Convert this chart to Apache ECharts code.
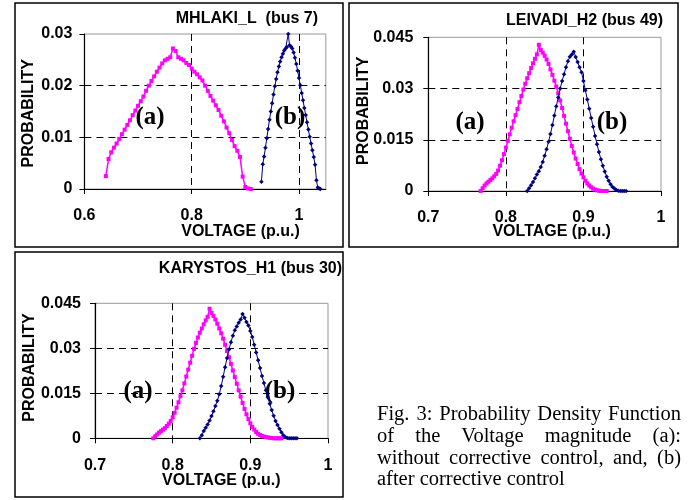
<!DOCTYPE html>
<html>
<head>
<meta charset="utf-8">
<script src="https://cdn.jsdelivr.net/npm/echarts@6/dist/echarts.min.js"></script>
<style>
  body { margin: 0; background: #fff; }
  #chart { width: 688px; height: 500px; }
  #caption { position: absolute; left: 377px; top: 403px; width: 304px;
    font-family: 'Liberation Serif', 'Times New Roman', serif; font-size: 20.5px;
    line-height: 21.8px; color: #000; }
  #caption .j { text-align: justify; text-align-last: justify; }
</style>
</head>
<body>
<div id="chart"></div>
<div id="caption">
  <div class="j">Fig. 3: Probability Density Function</div>
  <div class="j">of the Voltage magnitude (a):</div>
  <div class="j">without corrective control, and, (b)</div>
  <div>after corrective control</div>
</div>
<script>
// MHLAKI_L (bus 7)
var mhlakiVoltA = [0.640,0.645,0.650,0.655,0.660,0.665,0.670,0.675,0.680,0.685,0.690,0.695,0.700,0.705,0.710,0.715,0.720,0.725,0.730,0.735,0.740,0.745,0.750,0.755,0.760,0.765,0.770,0.775,0.780,0.785,0.790,0.795,0.800,0.805,0.810,0.815,0.820,0.825,0.830,0.835,0.840,0.845,0.850,0.855,0.860,0.865,0.870,0.875,0.880,0.885,0.890,0.895,0.900,0.905,0.910];
var mhlakiProbA = [0.0025,0.0058,0.0071,0.0080,0.0088,0.0097,0.0106,0.0115,0.0124,0.0133,0.0143,0.0152,0.0161,0.0170,0.0179,0.0190,0.0200,0.0209,0.0218,0.0227,0.0235,0.0243,0.0249,0.0252,0.0255,0.0272,0.0267,0.0255,0.0252,0.0249,0.0244,0.0240,0.0233,0.0227,0.0222,0.0216,0.0210,0.0200,0.0190,0.0180,0.0171,0.0162,0.0153,0.0142,0.0131,0.0119,0.0108,0.0095,0.0083,0.0074,0.0062,0.0024,0.0004,0.0001,0.0];
var mhlakiVoltB = [0.930,0.9325,0.935,0.9375,0.940,0.9425,0.945,0.9475,0.950,0.9525,0.955,0.9575,0.960,0.9625,0.965,0.9675,0.970,0.9725,0.975,0.9775,0.980,0.9825,0.985,0.9875,0.990,0.9925,0.995,0.9975,1.000,1.0025,1.005,1.0075,1.010,1.0125,1.015,1.0175,1.020,1.0225,1.025,1.0275,1.030,1.0325,1.035,1.0375,1.040];
var mhlakiProbB = [0.0014,0.0048,0.0063,0.0080,0.0098,0.0116,0.0134,0.0150,0.0166,0.0183,0.0199,0.0213,0.0226,0.0237,0.0247,0.0255,0.0262,0.0268,0.0272,0.0275,0.0300,0.0278,0.0276,0.0272,0.0264,0.0254,0.0242,0.0229,0.0215,0.0201,0.0186,0.0172,0.0157,0.0143,0.0129,0.0115,0.0101,0.0088,0.0075,0.0062,0.0047,0.0017,0.0003,0.0001,0.0];

// LEIVADI_H2 (bus 49)
var leivadiVoltA = [0.7675,0.7700,0.7725,0.7750,0.7775,0.7800,0.7825,0.7850,0.7875,0.7900,0.7925,0.7950,0.7975,0.8000,0.8025,0.8050,0.8075,0.8100,0.8125,0.8150,0.8175,0.8200,0.8225,0.8250,0.8275,0.8300,0.8325,0.8350,0.8375,0.8400,0.8425,0.8450,0.8475,0.8500,0.8525,0.8550,0.8575,0.8600,0.8625,0.8650,0.8675,0.8700,0.8725,0.8750,0.8775,0.8800,0.8825,0.8850,0.8875,0.8900,0.8925,0.8950,0.8975,0.9000,0.9025,0.9050,0.9075,0.9100,0.9125,0.9150,0.9175,0.9200,0.9225,0.9250,0.9275,0.9300];
var leivadiProbA = [0.0000,0.0008,0.0016,0.0022,0.0027,0.0032,0.0037,0.0043,0.0050,0.0060,0.0074,0.0090,0.0108,0.0127,0.0147,0.0166,0.0185,0.0204,0.0222,0.0240,0.0260,0.0278,0.0297,0.0314,0.0330,0.0345,0.0360,0.0374,0.0387,0.0400,0.0428,0.0413,0.0405,0.0396,0.0385,0.0372,0.0356,0.0340,0.0323,0.0306,0.0286,0.0265,0.0243,0.0220,0.0197,0.0175,0.0153,0.0132,0.0113,0.0095,0.0079,0.0064,0.0051,0.0040,0.0030,0.0022,0.0016,0.0011,0.0007,0.0004,0.0002,0.0001,0.0000,0.0000,0.0000,0.0000];
var leivadiVoltB = [0.8275,0.8300,0.8325,0.8350,0.8375,0.8400,0.8425,0.8450,0.8475,0.8500,0.8525,0.8550,0.8575,0.8600,0.8625,0.8650,0.8675,0.8700,0.8725,0.8750,0.8775,0.8800,0.8825,0.8850,0.8875,0.8900,0.8925,0.8950,0.8975,0.9000,0.9025,0.9050,0.9075,0.9100,0.9125,0.9150,0.9175,0.9200,0.9225,0.9250,0.9275,0.9300,0.9325,0.9350,0.9375,0.9400,0.9425,0.9450,0.9475,0.9500,0.9525,0.9550];
var leivadiProbB = [0.0000,0.0008,0.0017,0.0026,0.0037,0.0048,0.0058,0.0070,0.0085,0.0103,0.0122,0.0144,0.0167,0.0193,0.0221,0.0248,0.0274,0.0300,0.0322,0.0342,0.0362,0.0380,0.0393,0.0400,0.0408,0.0392,0.0378,0.0362,0.0348,0.0322,0.0295,0.0268,0.0241,0.0214,0.0188,0.0161,0.0137,0.0114,0.0093,0.0074,0.0057,0.0042,0.0030,0.0020,0.0012,0.0007,0.0003,0.0001,0.0000,0.0000,0.0000,0.0000];

// KARYSTOS_H1 (bus 30)
var karystosVoltA = [0.7750,0.7775,0.7800,0.7825,0.7850,0.7875,0.7900,0.7925,0.7950,0.7975,0.8000,0.8025,0.8050,0.8075,0.8100,0.8125,0.8150,0.8175,0.8200,0.8225,0.8250,0.8275,0.8300,0.8325,0.8350,0.8375,0.8400,0.8425,0.8450,0.8475,0.8500,0.8525,0.8550,0.8575,0.8600,0.8625,0.8650,0.8675,0.8700,0.8725,0.8750,0.8775,0.8800,0.8825,0.8850,0.8875,0.8900,0.8925,0.8950,0.8975,0.9000,0.9025,0.9050,0.9075,0.9100,0.9125,0.9150,0.9175,0.9200,0.9225,0.9250,0.9275,0.9300,0.9325,0.9350,0.9375,0.9400];
var karystosProbA = [0.0000,0.0007,0.0013,0.0019,0.0024,0.0029,0.0034,0.0041,0.0049,0.0058,0.0070,0.0085,0.0102,0.0120,0.0140,0.0160,0.0183,0.0206,0.0229,0.0252,0.0275,0.0298,0.0318,0.0336,0.0352,0.0366,0.0380,0.0393,0.0405,0.0432,0.0418,0.0408,0.0396,0.0382,0.0366,0.0350,0.0332,0.0312,0.0291,0.0270,0.0248,0.0226,0.0204,0.0182,0.0160,0.0139,0.0118,0.0098,0.0080,0.0064,0.0050,0.0038,0.0029,0.0021,0.0015,0.0011,0.0008,0.0006,0.0004,0.0003,0.0002,0.0001,0.0000,0.0000,0.0000,0.0000,0.0000];
var karystosVoltB = [0.8350,0.8375,0.8400,0.8425,0.8450,0.8475,0.8500,0.8525,0.8550,0.8575,0.8600,0.8625,0.8650,0.8675,0.8700,0.8725,0.8750,0.8775,0.8800,0.8825,0.8850,0.8875,0.8900,0.8925,0.8950,0.8975,0.9000,0.9025,0.9050,0.9075,0.9100,0.9125,0.9150,0.9175,0.9200,0.9225,0.9250,0.9275,0.9300,0.9325,0.9350,0.9375,0.9400,0.9425,0.9450,0.9475,0.9500,0.9525,0.9550,0.9575,0.9600];
var karystosProbB = [0.0000,0.0010,0.0024,0.0035,0.0046,0.0059,0.0074,0.0090,0.0108,0.0125,0.0147,0.0174,0.0205,0.0237,0.0268,0.0296,0.0320,0.0342,0.0360,0.0373,0.0385,0.0396,0.0414,0.0402,0.0388,0.0376,0.0358,0.0338,0.0312,0.0286,0.0260,0.0234,0.0208,0.0184,0.0160,0.0137,0.0115,0.0094,0.0075,0.0058,0.0044,0.0032,0.0020,0.0010,0.0004,0.0001,0.0000,0.0000,0.0000,0.0000,0.0000];

var titles = ['MHLAKI_L  (bus 7)', 'LEIVADI_H2 (bus 49)', 'KARYSTOS_H1 (bus 30)'];

var font = 'Liberation Sans, Arial, sans-serif';
var dash = { color: '#000', width: 1, type: [7, 5] };

function pairs(xs, ys) {
  return xs.map(function (x, i) { return [x, ys[i]]; });
}

function xAxisFor(idx, min, max, interval, hideMax) {
  return {
    type: 'value', gridIndex: idx, min: min, max: max, interval: interval,
    axisLine: { lineStyle: { color: '#000', width: 1.2 } },
    axisTick: { show: true, length: 5, lineStyle: { color: '#000' } },
    axisLabel: { color: '#000', fontFamily: font, fontWeight: 'bold', fontSize: 16, margin: 19, showMaxLabel: !hideMax },
    splitLine: { show: true, showMinLine: false, showMaxLine: false, lineStyle: dash }
  };
}

function yAxisFor(idx, max, interval, margin) {
  return {
    type: 'value', gridIndex: idx, min: 0, max: max, interval: interval,
    axisLine: { show: true, lineStyle: { color: '#000', width: 1.2 } },
    axisTick: { show: true, length: 5, lineStyle: { color: '#000' } },
    axisLabel: { color: '#000', fontFamily: font, fontWeight: 'bold', fontSize: 16, margin: margin },
    splitLine: { show: true, showMinLine: false, showMaxLine: false, lineStyle: dash }
  };
}

function curveA(idx, xs, ys) {
  return {
    type: 'line', xAxisIndex: idx, yAxisIndex: idx, data: pairs(xs, ys),
    symbol: 'rect', symbolSize: 4, showAllSymbol: true,
    lineStyle: { color: '#ff00ff', width: 1.5 }, itemStyle: { color: '#ff00ff' }, z: 3
  };
}

function curveB(idx, xs, ys) {
  return {
    type: 'line', xAxisIndex: idx, yAxisIndex: idx, data: pairs(xs, ys),
    symbol: 'diamond', symbolSize: 4.5, showAllSymbol: true,
    lineStyle: { color: '#000080', width: 1 }, itemStyle: { color: '#000080' }, z: 4
  };
}

function txt(x, y, s, opts) {
  opts = opts || {};
  return {
    type: 'text', x: x, y: y, rotation: opts.rot || 0, z: opts.z || 10,
    style: {
      text: s, fill: '#000', align: opts.align || 'center', verticalAlign: 'middle',
      fontFamily: opts.family || font, fontWeight: 'bold', fontSize: opts.size || 16
    }
  };
}

function box(x, y, w, h) {
  return { type: 'rect', shape: { x: x, y: y, width: w, height: h },
    style: { fill: 'none', stroke: '#000', lineWidth: 1.5 }, z: 10 };
}

var serif = 'Liberation Serif, Times New Roman, serif';
var gridStyle = { show: true, borderColor: '#999', borderWidth: 1, backgroundColor: 'transparent', outerBoundsMode: 'none' };

var chart = echarts.init(document.getElementById('chart'));
chart.setOption({
  animation: false,
  backgroundColor: '#fff',
  grid: [
    Object.assign({ left: 84.4, top: 34, width: 241.4, height: 155 }, gridStyle),
    Object.assign({ left: 428.3, top: 37.3, width: 232.7, height: 153.7 }, gridStyle),
    Object.assign({ left: 95, top: 303.3, width: 233, height: 135 }, gridStyle)
  ],
  xAxis: [
    xAxisFor(0, 0.6, 1.05, 0.2, true),
    xAxisFor(1, 0.7, 1.0, 0.1, false),
    xAxisFor(2, 0.7, 1.0, 0.1, false)
  ],
  yAxis: [
    yAxisFor(0, 0.03, 0.01, 12),
    yAxisFor(1, 0.045, 0.015, 15),
    yAxisFor(2, 0.045, 0.015, 14)
  ],
  series: [
    curveA(0, mhlakiVoltA, mhlakiProbA),
    curveB(0, mhlakiVoltB, mhlakiProbB),
    curveA(1, leivadiVoltA, leivadiProbA),
    curveB(1, leivadiVoltB, leivadiProbB),
    curveA(2, karystosVoltA, karystosProbA),
    curveB(2, karystosVoltB, karystosProbB)
  ],
  graphic: [
    box(15, 3, 328, 244),
    box(349, 3, 329, 244),
    box(15, 252, 328, 245),
    txt(318, 18.3, titles[0], { align: 'right' }),
    txt(663, 20.8, titles[1], { align: 'right' }),
    txt(342, 269, titles[2], { align: 'right' }),
    txt(29, 113.3, 'PROBABILITY', { rot: Math.PI / 2 }),
    txt(363.8, 110.8, 'PROBABILITY', { rot: Math.PI / 2 }),
    txt(29.5, 367.5, 'PROBABILITY', { rot: Math.PI / 2 }),
    txt(240.5, 231.5, 'VOLTAGE (p.u.)'),
    txt(551.7, 232, 'VOLTAGE (p.u.)'),
    txt(221.3, 480.3, 'VOLTAGE (p.u.)'),
    txt(150, 118, '(a)', { family: serif, size: 25, z: -1 }),
    txt(290, 118, '(b)', { family: serif, size: 25, z: -1 }),
    txt(470, 123, '(a)', { family: serif, size: 25, z: -1 }),
    txt(612, 123, '(b)', { family: serif, size: 25, z: -1 }),
    txt(138, 392, '(a)', { family: serif, size: 25, z: -1 }),
    txt(280, 392, '(b)', { family: serif, size: 25, z: -1 })
  ]
});
</script>
</body>
</html>
